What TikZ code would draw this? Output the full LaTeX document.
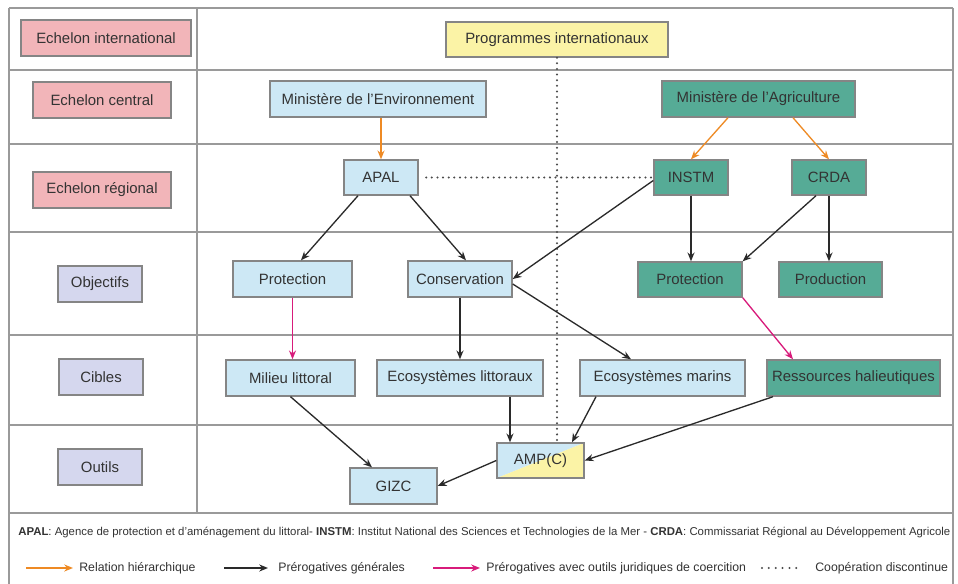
\documentclass[tikz,border=0pt]{standalone}
\usepackage{fontspec}
\setmainfont{Liberation Sans}
\usetikzlibrary{arrows.meta,calc}
\definecolor{pinkf}{HTML}{F2B5B9}
\definecolor{lavf}{HTML}{D5D7EE}
\definecolor{bluef}{HTML}{CDE8F5}
\definecolor{tealf}{HTML}{56AB96}
\definecolor{yellf}{HTML}{FBF3A6}
\definecolor{txtc}{HTML}{333333}
\definecolor{bordc}{HTML}{858585}
\definecolor{gridc}{HTML}{9A9A9A}
\definecolor{orangec}{HTML}{EE8A24}
\definecolor{magc}{HTML}{D81B7B}
\definecolor{arrc}{HTML}{2A2A2A}
\newcommand{\mkbox}[7]{\node[#6, minimum width={(#4-#2)*0.02cm}, minimum height={(#5-#3)*0.02cm}] (#1) at ({(#2+#4)/2},{(#3+#5)/2}) {#7};}
\begin{document}
\begin{tikzpicture}[x=0.02cm,y=-0.02cm,
  gridline/.style={draw=gridc,line width=0.75pt},
  boxbase/.style={draw=bordc,line width=0.8pt,inner sep=0pt,text=txtc,font=\fontsize{8.5}{10}\selectfont},
  pinkbox/.style={boxbase,fill=pinkf},
  lavbox/.style={boxbase,fill=lavf},
  bluebox/.style={boxbase,fill=bluef},
  tealbox/.style={boxbase,fill=tealf},
  yellbox/.style={boxbase,fill=yellf},
  hier/.style={draw=orangec,line width=0.75pt,-{Stealth[length=5pt,width=4pt]}},
  gen/.style={draw=arrc,line width=0.75pt,-{Stealth[length=5pt,width=4pt]}},
  coer/.style={draw=magc,line width=0.75pt,-{Stealth[length=5pt,width=4pt]}},
  coop/.style={draw=arrc!85,line width=1.3pt,line cap=round,dash pattern=on 0pt off 3.2pt},
  legtext/.style={text=txtc,font=\fontsize{7}{8}\selectfont,inner sep=0pt,anchor=west}
]
\useasboundingbox (0,0) rectangle (958,584);
\fill[white] (0,0) rectangle (958,584);
% grid
\draw[gridline] (9,8) -- (953,8);
\draw[gridline] (9,8) -- (9,584);
\draw[gridline] (953,8) -- (953,584);
\foreach \yy in {70,144,232,335,425,513} \draw[gridline] (9,\yy) -- (953,\yy);
\draw[gridline] (197,8) -- (197,513);
% left labels
\mkbox{li}{21}{20}{191}{56}{pinkbox}{Echelon international}
\mkbox{lc}{33}{82}{171}{118}{pinkbox}{Echelon central}
\mkbox{lr}{33}{172}{171}{208}{pinkbox}{Echelon régional}
\mkbox{lo}{58}{266}{142}{302}{lavbox}{Objectifs}
\mkbox{lci}{59}{359}{143}{395}{lavbox}{Cibles}
\mkbox{lou}{58}{449}{142}{485}{lavbox}{Outils}
% main nodes
\mkbox{prog}{446}{22}{668}{57}{yellbox}{Programmes internationaux}
\mkbox{minenv}{270}{81}{486}{117}{bluebox}{Ministère de l'Environnement}
\mkbox{minagri}{662}{81}{855}{117}{tealbox}{Ministère de l'Agriculture}
\mkbox{apal}{344}{160}{418}{195}{bluebox}{APAL}
\mkbox{instm}{654}{160}{728}{195}{tealbox}{INSTM}
\mkbox{crda}{792}{160}{866}{195}{tealbox}{CRDA}
\mkbox{protb}{233}{261}{352}{297}{bluebox}{Protection}
\mkbox{cons}{408}{261}{512}{297}{bluebox}{Conservation}
\mkbox{prott}{638}{262}{742}{297}{tealbox}{Protection}
\mkbox{prod}{779}{262}{882}{297}{tealbox}{Production}
\mkbox{milieu}{226}{360}{355}{396}{bluebox}{Milieu littoral}
\mkbox{ecol}{377}{360}{543}{396}{bluebox}{Ecosystèmes littoraux}
\mkbox{ecom}{580}{360}{745}{396}{bluebox}{Ecosystèmes marins}
\mkbox{res}{767}{360}{940}{396}{tealbox}{Ressources halieutiques}
\fill[bluef] (497,443) -- (584,443) -- (497,478) -- cycle;
\fill[yellf] (584,443) -- (584,478) -- (497,478) -- cycle;
\mkbox{amp}{497}{443}{584}{478}{boxbase}{AMP(C)}
\mkbox{gizc}{350}{468}{437}{504}{bluebox}{GIZC}
% cooperation (dotted)
\draw[coop] (prog.south) -- (prog.south |- amp.north);
\draw[coop] ([xshift=0.15cm]apal.east) -- (instm.west);
% hierarchy
\draw[hier] (apal.north |- minenv.south) -- (apal.north);
\draw[hier] ([xshift=-0.61cm]minagri.south) -- (instm.north);
\draw[hier] ([xshift=0.69cm]minagri.south) -- (crda.north);
% general
\draw[gen] ([xshift=-0.46cm]apal.south) -- ([xshift=0.17cm]protb.north);
\draw[gen] ([xshift=0.58cm]apal.south) -- ([xshift=0.12cm]cons.north);
\draw[gen] ([yshift=-0.06cm]instm.west) -- (cons.east);
\draw[gen] (instm.south) -- (instm.south |- prott.north);
\draw[gen] ([xshift=-0.26cm]crda.south) -- (prott.north east);
\draw[gen] (crda.south) -- (crda.south |- prod.north);
\draw[gen] (cons.south) -- (cons.south |- ecol.north);
\draw[gen] ([yshift=-0.1cm]cons.east) -- ([xshift=-0.63cm]ecom.north);
\draw[gen] (milieu.south) -- ([xshift=-0.43cm]gizc.north);
\draw[gen] ([xshift=1cm]ecol.south) -- ([xshift=1cm]ecol.south |- amp.north);
\draw[gen] ([xshift=-1.33cm]ecom.south) -- ([xshift=0.63cm]amp.north);
\draw[gen] ([xshift=-1.61cm]res.south) -- (amp.east);
\draw[gen] (amp.west) -- (gizc.east);
% coercion
\draw[coer] (protb.south) -- (protb.south |- milieu.north);
\draw[coer] (prott.south east) -- ([xshift=-1.21cm]res.north);
% legend
\node[legtext,font=\fontsize{6.48}{8}\selectfont] (abbr) at (18,532) {\textbf{APAL}: Agence de protection et d'aménagement du littoral- \textbf{INSTM}: Institut National des Sciences et Technologies de la Mer - \textbf{CRDA}: Commissariat Régional au Développement Agricole};
\coordinate (l1a) at (26,568); \coordinate (l1b) at (73,568);
\coordinate (l2a) at (224,568); \coordinate (l2b) at (268,568);
\coordinate (l3a) at (433,568); \coordinate (l3b) at (480,568);
\coordinate (l4a) at (762,568); \coordinate (l4b) at (800,568);
\draw[hier] (l1a) -- (l1b);
\draw[gen] (l2a) -- (l2b);
\draw[coer] (l3a) -- (l3b);
\draw[coop,dash pattern=on 0pt off 3.9pt] (l4a) -- (l4b);
\node[legtext] (t1) at (79,568) {Relation hiérarchique};
\node[legtext] (t2) at (278,568) {Prérogatives générales};
\node[legtext] (t3) at (486,568) {Prérogatives avec outils juridiques de coercition};
\node[legtext] (t4) at (815,568) {Coopération discontinue};
\end{tikzpicture}
\end{document}
